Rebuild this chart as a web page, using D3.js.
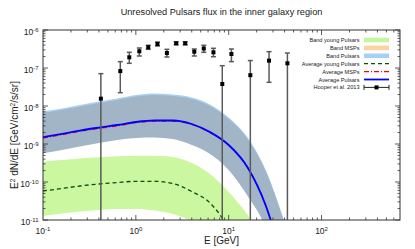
<!DOCTYPE html>
<html>
<head>
<meta charset="utf-8">
<script src="https://cdn.jsdelivr.net/npm/d3@7"></script>
<style>
body { margin: 0; background: #fff; }
text { font-family: "Liberation Sans", Arial, sans-serif; fill: #222; }
</style>
</head>
<body>
<div id="chart"></div>
<script>
// energy grid for the model curves (GeV)
const energies = [0.1, 0.16, 0.25, 0.4, 0.63, 1, 1.6, 2.5, 4, 6.3, 10, 16, 25, 40];

// E^2 dN/dE (GeV/cm2/s/sr)
const youngLow  = [1.27e-11, 1.48e-11, 1.67e-11, 1.83e-11, 1.95e-11, 1.95e-11, 1.78e-11, 1.44e-11, 8.9e-12, 3.0e-12, 1e-12, 2e-13, 5e-14, 1e-14];
const youngHigh = [3.42e-10, 3.79e-10, 4.15e-10, 4.47e-10, 4.75e-10, 4.92e-10, 4.92e-10, 4.55e-10, 3.16e-10, 1.62e-10, 5.46e-11, 1.35e-11, 2.2e-12, 1e-13];
const mspLow    = [5.69e-10, 6.95e-10, 8.6e-10, 1.06e-9, 1.27e-9, 1.44e-9, 1.48e-9, 1.35e-9, 9.4e-10, 5.46e-10, 2.07e-10, 4.28e-11, 6.2e-12, 1e-13];
const mspHigh   = [6.67e-9, 7.85e-9, 9.7e-9, 1.2e-8, 1.44e-8, 1.78e-8, 1.95e-8, 1.83e-8, 1.53e-8, 1.0e-8, 4.55e-9, 1.35e-9, 1.95e-10, 8.3e-12];
const pulsLow   = [6.0e-10, 7.3e-10, 9.0e-10, 1.11e-9, 1.33e-9, 1.51e-9, 1.55e-9, 1.42e-9, 9.9e-10, 5.7e-10, 2.17e-10, 4.5e-11, 6.5e-12, 1e-13];
const pulsHigh  = [7.3e-9, 8.6e-9, 1.06e-8, 1.31e-8, 1.58e-8, 1.95e-8, 2.13e-8, 2.0e-8, 1.68e-8, 1.1e-8, 5.0e-9, 1.48e-9, 2.1e-10, 9e-12];
const youngAvg  = [5.8e-11, 6.75e-11, 7.85e-11, 8.86e-11, 9.7e-11, 1.04e-10, 1.04e-10, 9.14e-11, 5.62e-11, 2.8e-11, 6.2e-12, 7e-13, 1e-14, 1e-15];
const mspAvg    = [1.43e-9, 1.76e-9, 2.15e-9, 2.57e-9, 3.0e-9, 3.62e-9, 3.98e-9, 4.0e-9, 3.27e-9, 2.0e-9, 9.25e-10, 2.39e-10, 2.44e-11, 5.7e-13];
const pulsAvg   = [1.51e-9, 1.85e-9, 2.26e-9, 2.7e-9, 3.16e-9, 3.79e-9, 4.15e-9, 4.15e-9, 3.36e-9, 2.05e-9, 9.4e-10, 2.41e-10, 2.45e-11, 5.7e-13];

// Hooper et al. 2013 points (lower 0 = bar runs down to the axis)
const hE  = [0.42, 0.68, 0.85, 1.09, 1.36, 1.71, 2.16, 2.72, 3.40, 4.26, 5.39, 6.85, 8.53, 10.7, 17.1, 27.2, 42.9];
const hF  = [1.56e-8, 8.3e-8, 1.91e-7, 2.75e-7, 3.51e-7, 4.28e-7, 2.48e-7, 4.47e-7, 4.47e-7, 2.69e-7, 3.26e-7, 2.59e-7, 3.79e-8, 2.34e-7, 6.47e-8, 1.56e-7, 1.33e-7];
const hHi = [7.1e-8, 1.47e-7, 2.59e-7, 3.36e-7, 3.96e-7, 4.83e-7, 3.1e-7, 4.9e-7, 4.9e-7, 3.16e-7, 3.96e-7, 3.3e-7, 1.15e-7, 3.16e-7, 1.57e-7, 2.69e-7, 2.48e-7];
const hLo = [0, 2.24e-8, 1.33e-7, 2.07e-7, 3.1e-7, 3.79e-7, 1.95e-7, 4.08e-7, 4.08e-7, 2.07e-7, 2.59e-7, 1.98e-7, 0, 1.47e-7, 0, 4.2e-8, 0];

// ticks
const xMajor = [0.1, 1, 10, 100];
const xExp = ["-1", "0", "1", "2"];
const yMajor = [1e-11, 1e-10, 1e-9, 1e-8, 1e-7, 1e-6];
const yExp = ["-11", "-10", "-9", "-8", "-7", "-6"];

const legendLabels = ["Band young Pulsars", "Band MSPs", "Band Pulsars", "Average young Pulsars", "Average MSPs", "Average Pulsars", "Hooper et al. 2013"];

const width = 415, height = 249;
const margin = {left: 43, right: 15, top: 30, bottom: 29};

const svg = d3.select("#chart").append("svg")
    .attr("width", width)
    .attr("height", height);

const x = d3.scaleLog().domain([0.1, 700]).range([margin.left, width - margin.right]);
const y = d3.scaleLog().domain([1e-11, 1e-6]).range([height - margin.bottom, margin.top]);

svg.append("clipPath").attr("id", "clip")
  .append("rect")
    .attr("x", x.range()[0]).attr("y", y.range()[1])
    .attr("width", x.range()[1] - x.range()[0])
    .attr("height", y.range()[0] - y.range()[1]);

const plot = svg.append("g").attr("clip-path", "url(#clip)");

// bands
function band(lo, hi) {
    return d3.area()
        .x((d, i) => x(energies[i]))
        .y0((d, i) => y(lo[i]))
        .y1((d, i) => y(hi[i]))
        .curve(d3.curveMonotoneX)(energies);
}
plot.append("path").attr("d", band(youngLow, youngHigh)).attr("fill", "#cbf7a0");
plot.append("path").attr("d", band(pulsLow, pulsHigh)).attr("fill", "#a8d0f2");
plot.append("path").attr("d", band(mspLow, mspHigh)).attr("fill", "#a2b5c6");

// average lines
function line(vals) {
    return d3.line()
        .x((d, i) => x(energies[i]))
        .y((d, i) => y(vals[i]))
        .curve(d3.curveMonotoneX)(energies);
}
plot.append("path").attr("d", line(youngAvg))
    .attr("fill", "none").attr("stroke", "#0b4d0b").attr("stroke-width", 1.3)
    .attr("stroke-dasharray", "4,3");
plot.append("path").attr("d", line(mspAvg))
    .attr("fill", "none").attr("stroke", "#ff0000").attr("stroke-width", 1.2)
    .attr("stroke-dasharray", "5,2,1,2");
plot.append("path").attr("d", line(pulsAvg))
    .attr("fill", "none").attr("stroke", "#0000ff").attr("stroke-width", 1.8);

// error bars
const pts = hE.map((e, i) => ({e, f: hF[i], lo: hLo[i], hi: hHi[i]}));
const bars = plot.append("g").attr("stroke", "#5a5a5a").attr("stroke-width", 1.5);
bars.selectAll(".eb").data(pts).enter().append("line")
    .attr("x1", d => x(d.e)).attr("x2", d => x(d.e))
    .attr("y1", d => d.lo > 0 ? y(d.lo) : y.range()[0])
    .attr("y2", d => y(d.hi));
bars.selectAll(".cap-top").data(pts).enter().append("line")
    .attr("x1", d => x(d.e) - 2.5).attr("x2", d => x(d.e) + 2.5)
    .attr("y1", d => y(d.hi)).attr("y2", d => y(d.hi));
bars.selectAll(".cap-bot").data(pts.filter(d => d.lo > 0)).enter().append("line")
    .attr("x1", d => x(d.e) - 2.5).attr("x2", d => x(d.e) + 2.5)
    .attr("y1", d => y(d.lo)).attr("y2", d => y(d.lo));
plot.selectAll(".pt").data(pts).enter().append("rect")
    .attr("x", d => x(d.e) - 2).attr("y", d => y(d.f) - 2)
    .attr("width", 4).attr("height", 4).attr("fill", "#000");

// frame and ticks
const axisColor = "#333";
const [x0, x1] = x.range();
const [y0, y1] = y.range();
svg.append("rect").attr("x", x0).attr("y", y1)
    .attr("width", x1 - x0).attr("height", y0 - y1)
    .attr("fill", "none").attr("stroke", axisColor).attr("stroke-width", 1);

const xMinor = x.ticks().filter(t => t > 0.1 && t < 700);
const yMinor = y.ticks();
const ticks = svg.append("g").attr("stroke", axisColor).attr("stroke-width", 0.8);
xMinor.forEach(t => {
    const len = xMajor.includes(t) ? 5 : 2.5;
    ticks.append("line").attr("x1", x(t)).attr("x2", x(t)).attr("y1", y0).attr("y2", y0 - len);
    ticks.append("line").attr("x1", x(t)).attr("x2", x(t)).attr("y1", y1).attr("y2", y1 + len);
});
yMinor.forEach(t => {
    const len = yMajor.some(m => Math.abs(m - t) / m < 1e-6) ? 5 : 2.5;
    ticks.append("line").attr("y1", y(t)).attr("y2", y(t)).attr("x1", x0).attr("x2", x0 + len);
    ticks.append("line").attr("y1", y(t)).attr("y2", y(t)).attr("x1", x1).attr("x2", x1 - len);
});

// tick labels
xMajor.forEach((t, i) => {
    const tx = svg.append("text").attr("x", x(t)).attr("y", y0 + 14)
        .attr("text-anchor", "middle").attr("font-size", 8.5);
    tx.append("tspan").text("10");
    tx.append("tspan").attr("dy", -3.5).attr("font-size", 6).text(xExp[i]);
});
yMajor.forEach((t, i) => {
    const ty = svg.append("text").attr("x", x0 - 4.5).attr("y", y(t) + 5)
        .attr("text-anchor", "end").attr("font-size", 8.5);
    ty.append("tspan").text("10");
    ty.append("tspan").attr("dy", -3.5).attr("font-size", 6).text(yExp[i]);
});

// titles
svg.append("text").attr("x", (x0 + x1) / 2).attr("y", 15)
    .attr("text-anchor", "middle").attr("font-size", 9.2)
    .text("Unresolved Pulsars flux in the inner galaxy region");

svg.append("text").attr("x", (x0 + x1) / 2).attr("y", 244)
    .attr("text-anchor", "middle").attr("font-size", 10)
    .text("E [GeV]");

const yl = svg.append("text")
    .attr("transform", "translate(18,135) rotate(-90)")
    .attr("text-anchor", "middle").attr("font-size", 10);
yl.append("tspan").text("E");
yl.append("tspan").attr("dy", -3.5).attr("font-size", 6.5).text("2");
yl.append("tspan").attr("dy", 3.5).text(" dN/dE [GeV/cm");
yl.append("tspan").attr("dy", -3.5).attr("font-size", 6.5).text("2");
yl.append("tspan").attr("dy", 3.5).text("/s/sr]");

// legend
const legend = svg.append("g");
const rowY = i => 40 + i * 7.9;
legendLabels.forEach((name, i) => {
    legend.append("text").attr("x", 359.5).attr("y", rowY(i) + 2)
        .attr("text-anchor", "end").attr("font-size", 5.6).text(name);
});
const swatchColors = ["#c6f5a0", "#fdd29e", "#a6d0f5"];
swatchColors.forEach((c, i) => {
    legend.append("rect").attr("x", 364).attr("y", rowY(i) - 2.3)
        .attr("width", 25).attr("height", 4.6).attr("fill", c);
});
const legLines = [
    {color: "#0b4d0b", dash: "4,3", w: 1.3},
    {color: "#ff0000", dash: "5,2,1,2", w: 1.2},
    {color: "#0000ff", dash: null, w: 1.8}
];
legLines.forEach((l, k) => {
    legend.append("line").attr("x1", 364).attr("x2", 389)
        .attr("y1", rowY(3 + k)).attr("y2", rowY(3 + k))
        .attr("stroke", l.color).attr("stroke-width", l.w)
        .attr("stroke-dasharray", l.dash);
});
const hy = rowY(6);
legend.append("line").attr("x1", 364).attr("x2", 389).attr("y1", hy).attr("y2", hy)
    .attr("stroke", "#222").attr("stroke-width", 1);
[364, 389].forEach(cx => legend.append("line").attr("x1", cx).attr("x2", cx)
    .attr("y1", hy - 2.5).attr("y2", hy + 2.5).attr("stroke", "#222").attr("stroke-width", 1));
legend.append("rect").attr("x", 374.5).attr("y", hy - 2).attr("width", 4).attr("height", 4).attr("fill", "#000");
</script>
</body>
</html>
